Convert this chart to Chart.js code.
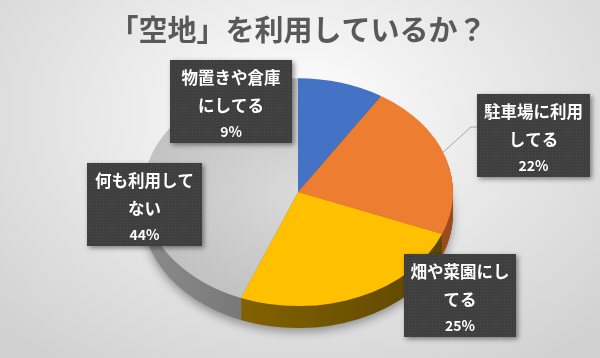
<!DOCTYPE html>
<html>
<head>
<meta charset="utf-8">
<script src="https://cdn.jsdelivr.net/npm/chart.js@4/dist/chart.umd.min.js"></script>
<style>
  html, body { margin: 0; padding: 0; background: #fff; }
  #wrap { width: 600px; height: 358px; position: relative;
    background: radial-gradient(ellipse 70% 85% at 50% 32%, #ffffff 0%, #f3f3f3 25%, #d1d1d1 100%); }
  canvas { display: block; }
</style>
</head>
<body>
<div id="wrap"><canvas id="c" width="600" height="358"></canvas></div>
<script>
// ---- data ----
const titleText = '「空地」を利用しているか？';
const categories = ['物置きや倉庫にしてる', '駐車場に利用してる', '畑や菜園にしてる', '何も利用してない'];
const values = [9, 22, 25, 44];

// ---- styles / layout ----
const topColors = ['#4472C4', '#ED7D31', '#FFC000', null];
const TILT = 0.735;      // vertical squash of the pie
const DEPTH = 22;        // thickness of the pie
const RADIUS = 155;
const labelBoxes = [
  { x: 170, y: 60,  w: 122, h: 83, leader: false },
  { x: 477, y: 94,  w: 113, h: 83, leader: true  },
  { x: 404, y: 254, w: 112, h: 83, leader: false },
  { x: 87,  y: 163, w: 115, h: 83, leader: false }
];
const CJK = '"Noto Sans CJK JP", "Noto Sans", sans-serif';

function wrapText(s, n) {
  const out = [];
  const chars = Array.from(s);
  for (let i = 0; i < chars.length; i += n) out.push(chars.slice(i, i + n).join(''));
  return out;
}

function center(chart) {
  const a = chart.chartArea;
  return { cx: (a.left + a.right) / 2, cy: (a.top + a.bottom) / 2 };
}

function grayFill(c) {
  const ch = c.chart;
  if (!ch.chartArea) return '#cfcfcf';
  const { cx, cy } = center(ch);
  const g = ch.ctx.createRadialGradient(cx, cy, 0, cx, cy, RADIUS);
  g.addColorStop(0, '#dadada');
  g.addColorStop(1, '#c2c2c2');
  return g;
}

function sideColors(chart) {
  const ctx = chart.ctx;
  const { cx } = center(chart);
  const gGray = ctx.createLinearGradient(cx - RADIUS, 0, cx + RADIUS, 0);
  gGray.addColorStop(0, '#8c8c8c');
  gGray.addColorStop(0.5, '#6c6c6c');
  gGray.addColorStop(1, '#5c5c5c');
  const gYel = ctx.createLinearGradient(cx - RADIUS * 0.4, 0, cx + RADIUS, 0);
  gYel.addColorStop(0, '#836300');
  gYel.addColorStop(1, '#5a4400');
  return ['#2a4a80', '#9a4e1c', gYel, gGray];
}

function applyTilt(ctx, chart) {
  const { cx, cy } = center(chart);
  ctx.translate(cx, cy);
  ctx.scale(1, TILT);
  ctx.translate(-cx, -cy);
}

const tiltPlugin = {
  id: 'tilt',
  beforeDatasetsDraw(chart) {
    const ctx = chart.ctx;
    const meta = chart.getDatasetMeta(0);
    const sides = sideColors(chart);
    for (let d = DEPTH; d >= 1; d--) {
      ctx.save();
      ctx.translate(0, d);
      applyTilt(ctx, chart);
      if (d === DEPTH) {
        ctx.shadowColor = 'rgba(0,0,0,0.35)';
        ctx.shadowBlur = 10;
        ctx.shadowOffsetY = 4;
      }
      meta.data.forEach((arc, i) => {
        const o = arc.options;
        arc.options = Object.assign({}, o, { backgroundColor: sides[i], borderColor: sides[i], borderWidth: 0 });
        arc.draw(ctx);
        arc.options = o;
      });
      ctx.restore();
    }
    ctx.save();
    applyTilt(ctx, chart);
  },
  afterDatasetsDraw(chart) {
    chart.ctx.restore();
  }
};

let dotPattern = null;
function getPattern(ctx) {
  if (dotPattern) return dotPattern;
  const p = document.createElement('canvas');
  p.width = 3; p.height = 3;
  const pc = p.getContext('2d');
  pc.fillStyle = '#3d3d3d';
  pc.fillRect(0, 0, 3, 3);
  pc.fillStyle = '#4a4a4a';
  pc.fillRect(0, 0, 1, 1);
  pc.fillRect(1, 2, 1, 1);
  dotPattern = ctx.createPattern(p, 'repeat');
  return dotPattern;
}

const labelPlugin = {
  id: 'boxLabels',
  afterDraw(chart) {
    const ctx = chart.ctx;
    const meta = chart.getDatasetMeta(0);
    const total = values.reduce((a, b) => a + b, 0);
    const { cx, cy } = center(chart);
    meta.data.forEach((arc, i) => {
      const b = labelBoxes[i];
      const p = arc.getProps(['x', 'y', 'startAngle', 'endAngle', 'outerRadius'], true);
      if (b.leader) {
        const mid = (p.startAngle + p.endAngle) / 2;
        const ax = p.x + Math.cos(mid) * p.outerRadius;
        const ay = cy + (p.y + Math.sin(mid) * p.outerRadius - cy) * TILT;
        ctx.save();
        ctx.strokeStyle = '#a6a6a6';
        ctx.lineWidth = 1;
        ctx.beginPath();
        ctx.moveTo(ax - 3, ay - 4);
        ctx.lineTo(b.x - 6, b.y + 33);
        ctx.lineTo(b.x, b.y + 33);
        ctx.stroke();
        ctx.restore();
      }
      // box
      ctx.save();
      ctx.shadowColor = 'rgba(0,0,0,0.45)';
      ctx.shadowBlur = 5;
      ctx.shadowOffsetX = 2;
      ctx.shadowOffsetY = 2;
      ctx.fillStyle = getPattern(ctx);
      ctx.fillRect(b.x, b.y, b.w, b.h);
      ctx.restore();
      // text
      ctx.save();
      ctx.fillStyle = '#ffffff';
      ctx.textAlign = 'center';
      ctx.textBaseline = 'middle';
      const lines = wrapText(categories[i], 6);
      const tx = b.x + b.w / 2;
      ctx.font = 'bold 16.5px ' + CJK;
      ctx.fillText(lines[0], tx, b.y + 18);
      if (lines[1]) ctx.fillText(lines[1], tx, b.y + 46);
      ctx.font = 'bold 14px ' + CJK;
      ctx.fillText(Math.round(values[i] / total * 100) + '%', tx, b.y + 72);
      ctx.restore();
    });
  }
};

new Chart(document.getElementById('c'), {
  type: 'pie',
  data: {
    labels: categories,
    datasets: [{
      data: values,
      backgroundColor: (c) => (c.dataIndex === 3 ? grayFill(c) : topColors[c.dataIndex]),
      borderWidth: 0,
      hoverOffset: 0,
      radius: RADIUS,
      clip: false
    }]
  },
  options: {
    responsive: false,
    animation: false,
    events: [],
    layout: { padding: { left: 0, right: 4, top: 0, bottom: 21.6 } },
    plugins: {
      legend: { display: false },
      tooltip: { enabled: false },
      title: {
        display: true,
        text: titleText,
        color: '#595959',
        font: { family: CJK, size: 29, weight: 'bold', lineHeight: 1.2 },
        padding: { top: 13, bottom: 0 }
      }
    }
  },
  plugins: [tiltPlugin, labelPlugin]
});
</script>
</body>
</html>
